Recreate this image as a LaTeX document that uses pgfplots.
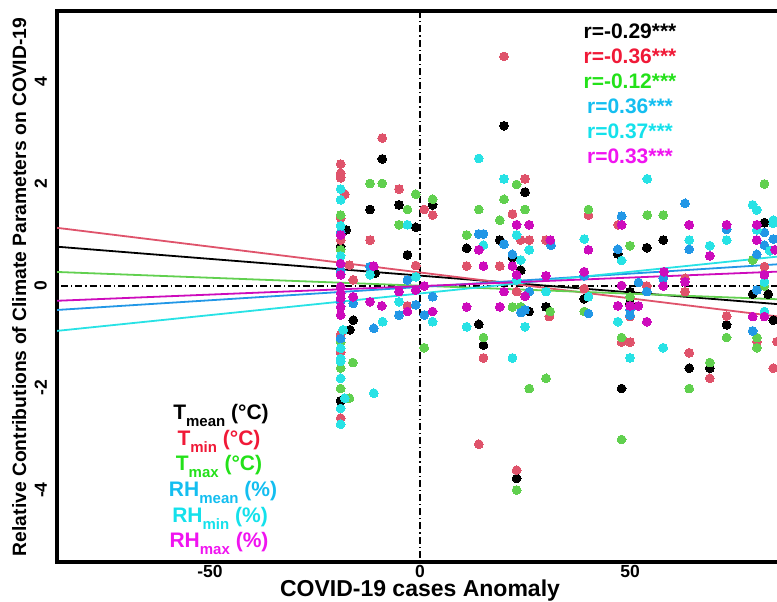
\documentclass[border=0pt]{standalone}
\usepackage{pgfplots}
\pgfplotsset{compat=1.18}
\usepackage{fontspec}
\setmainfont{Liberation Sans}
\definecolor{cred}{HTML}{DF536B}
\definecolor{cgreen}{HTML}{61D04F}
\definecolor{cblue}{HTML}{2297E6}
\definecolor{ccyan}{HTML}{28E2E5}
\definecolor{cmag}{HTML}{CD0BBC}
\definecolor{tred}{RGB}{240,25,55}
\definecolor{tgreen}{RGB}{35,225,25}
\definecolor{tblue}{RGB}{20,190,240}
\definecolor{tcyan}{RGB}{20,225,235}
\definecolor{tmag}{RGB}{240,20,240}
\newcommand{\sub}[1]{\raisebox{-7pt}{\fontsize{15}{15}\selectfont #1}}
\pgfplotsset{pts/.style={only marks, mark=*, mark size=4.4pt, color=#1, mark options={fill=#1, draw=#1, line width=0pt}}}
\begin{document}
\begin{tikzpicture}[x=1pt,y=1pt]
\begin{axis}[
  at={(57pt,40pt)}, anchor=south west,
  scale only axis, width=730pt, height=551pt,
  xmin=-86.43, xmax=87.38, ymin=-5.41, ymax=5.39,
  axis line style={line width=3.5pt},
  xtick={-50,0,50}, xticklabels={-50,0,50},
  ytick={-4,-2,0,2,4}, yticklabels={-4,-2,0,2,4},
  major tick length=0pt, tick style={draw=none},
  tick label style={font=\bfseries\fontsize{17.5}{17.5}\selectfont, inner sep=0pt},
  xticklabel style={anchor=north},
  xticklabel shift=3.5pt,
  yticklabel style={rotate=90, anchor=south},
  yticklabel shift=10pt,
]
\addplot[black, line width=1.2pt, dash pattern=on 1.2pt off 3pt on 7pt off 3pt] coordinates {(-86.43,0) (87.38,0)};
\addplot[black, line width=1.2pt, dash pattern=on 1.2pt off 3pt on 7pt off 3pt] coordinates {(0,-5.41) (0,5.39)};
% Tmean
\addplot[pts=black] coordinates {
(-17.6,1.10) (-18.9,0.77) (-18.9,0.30) (-15.9,-0.67) (-16.7,-0.86) (-18.9,-2.25) (-9.0,2.49) (-11.9,1.50) (-10.7,0.25) (-5.0,1.59) (-1.0,1.15) (-3.0,0.61) (3.0,1.59) (11.1,0.74) (14.0,-0.75) (15.1,-1.16) (19.0,0.90) (20.0,3.14) (22.0,0.56) (24.0,0.31) (25.0,1.84) (26.0,-0.50) (30.0,-0.41) (23.0,-3.77) (39.1,-0.25) (47.1,0.63) (48.0,-2.01) (50.0,-0.11) (50.0,-0.34) (54.0,0.75) (57.9,0.90) (64.1,-1.61) (69.0,-1.61) (73.0,-0.76) (79.2,-0.16) (82.9,-0.16) (82.0,1.24) (84.1,-0.67)
};
% Tmin
\addplot[pts=cred] coordinates {
(-18.9,2.39) (-18.9,2.21) (-18.9,2.12) (-17.9,1.80) (-18.9,1.33) (-18.9,0.90) (-16.8,0.41) (-15.9,0.12) (-18.9,-0.95) (-18.9,-1.30) (-18.9,-2.59) (-9.0,2.90) (-11.9,0.90) (-5.0,1.90) (-1.0,0.40) (1.0,1.50) (3.0,1.39) (-3.0,-0.39) (11.1,0.39) (14.0,-3.10) (15.1,-1.41) (19.0,0.39) (20.0,4.50) (22.0,1.41) (23.0,-0.11) (23.0,-3.61) (24.0,0.90) (25.0,2.10) (26.0,0.90) (30.0,0.90) (30.8,-0.60) (40.1,1.39) (39.1,-0.05) (47.2,1.20) (48.0,-1.10) (50.0,-1.10) (50.0,-0.60) (54.0,0.0) (58.1,0.28) (63.1,-0.11) (63.1,0.15) (64.1,-1.31) (69.0,-1.81) (73.0,-0.59) (80.2,-1.09) (82.0,0.38) (84.1,-1.61) (85.0,-1.09)
};
% Tmax
\addplot[pts=cgreen] coordinates {
(-18.9,1.39) (-18.9,0.71) (-18.9,-1.61) (-18.9,-2.01) (-16.0,-1.50) (-16.8,-2.20) (-18.9,-1.10) (-11.9,2.01) (-9.0,2.01) (-3.0,1.50) (-5.0,1.20) (-1.0,1.80) (3.0,1.70) (1.0,-1.21) (11.1,1.00) (14.0,1.50) (15.1,-1.01) (19.0,1.29) (20.0,1.70) (22.0,-0.41) (23.0,1.99) (24.0,-0.41) (25.0,1.50) (26.0,-2.01) (30.0,-1.81) (23.0,-4.00) (31.0,-0.50) (39.1,-0.50) (40.1,1.50) (48.0,0.01) (48.0,-1.01) (48.0,-3.01) (50.0,0.79) (50.0,-0.21) (54.1,1.39) (57.9,1.39) (64.1,-2.01) (69.0,-1.50) (73.0,-1.01) (79.2,0.51) (80.2,-1.01) (80.2,-1.21) (82.0,2.00) (82.0,0.0)
};
% RHmean
\addplot[pts=cblue] coordinates {
(-18.9,1.05) (-18.9,0.30) (-18.9,-0.30) (-18.9,-1.03) (-15.9,-0.34) (-11.0,-0.83) (-11.9,0.38) (-5.0,-0.57) (-3.0,0.12) (-1.0,-0.37) (1.0,-0.57) (3.0,-0.21) (14.0,1.02) (15.1,1.02) (20.0,0.82) (22.0,0.62) (24.0,-0.52) (25.0,-0.47) (26.0,-0.11) (31.2,0.80) (39.1,0.20) (40.1,-0.54) (47.1,0.72) (48.0,1.37) (50.0,-0.47) (50.0,-0.57) (52.0,0.07) (54.0,-0.11) (57.9,0.15) (63.1,1.62) (64.1,0.72) (73.0,1.11) (79.2,-0.88) (80.2,-0.08) (80.2,0.62) (82.0,1.05) (82.0,0.80) (84.1,0.92)
};
% RHmin
\addplot[pts=ccyan] coordinates {
(-18.9,1.90) (-18.9,1.69) (-18.9,1.18) (-18.9,0.59) (-18.3,-0.86) (-18.9,-1.22) (-18.9,-1.42) (-18.9,-1.48) (-18.9,-1.81) (-17.9,-2.20) (-18.9,-2.40) (-18.9,-2.71) (-11.0,-2.10) (-8.9,-0.70) (-11.9,0.22) (-5.0,-0.31) (-3.0,1.20) (-1.0,0.18) (3.0,-0.70) (11.1,-0.80) (14.0,2.50) (15.1,0.80) (20.0,2.10) (22.0,-1.41) (23.0,1.00) (23.0,0.12) (24.0,0.51) (25.0,-0.80) (26.0,0.71) (30.0,-0.11) (39.1,0.92) (40.1,-0.21) (47.1,-0.70) (48.0,0.50) (50.0,-1.41) (54.1,2.10) (57.9,-1.21) (64.1,0.90) (69.0,0.79) (73.0,0.90) (79.2,1.59) (80.2,1.49) (80.2,1.10) (82.0,0.08) (82.0,-0.50) (84.1,1.23) (83.3,0.69) (84.1,1.29)
};
% RHmax
\addplot[pts=cmag] coordinates {
(-18.9,1.00) (-18.9,0.44) (-18.9,0.22) (-18.9,-0.01) (-18.9,-0.14) (-18.9,-0.24) (-18.9,-0.41) (-18.9,-0.57) (-15.9,-0.21) (-11.0,0.39) (-11.9,-0.31) (-9.1,-0.39) (-5.0,-0.11) (-3.0,-0.50) (-1.0,-0.08) (1.0,0.0) (3.0,-0.50) (11.1,-0.41) (14.0,0.71) (15.1,0.39) (19.0,-0.41) (20.0,-0.11) (22.0,0.39) (23.0,1.20) (23.0,0.22) (25.0,-0.20) (26.0,1.20) (30.0,0.20) (31.0,0.90) (39.1,0.28) (40.1,0.71) (47.1,-0.39) (48.0,1.20) (48.0,0.01) (50.0,-0.39) (52.0,-0.39) (54.0,-0.70) (57.9,0.0) (58.1,0.28) (63.1,0.08) (64.1,1.20) (69.0,0.59) (73.0,1.20) (79.2,-0.60) (80.2,1.20) (80.2,0.90) (82.0,-0.60) (82.0,0.22) (84.5,0.71)
};
% regression lines
\addplot[black, line width=1.8pt] coordinates {(-86.43,0.77) (87.38,-0.37)};
\addplot[cred, line width=1.8pt] coordinates {(-86.43,1.14) (87.38,-0.62)};
\addplot[cgreen, line width=1.8pt] coordinates {(-86.43,0.275) (87.38,-0.267)};
\addplot[cblue, line width=1.8pt] coordinates {(-86.43,-0.47) (87.38,0.437)};
\addplot[ccyan, line width=1.8pt] coordinates {(-86.43,-0.88) (87.38,0.595)};
\addplot[cmag, line width=1.8pt] coordinates {(-86.43,-0.29) (87.38,0.289)};
\end{axis}
% axis titles
\node[anchor=base, inner sep=0pt, font=\bfseries\fontsize{23}{23}\selectfont] at (420,5) {COVID-19 cases Anomaly};
\node[rotate=90, anchor=north, inner sep=0pt, font=\bfseries\fontsize{19.3}{19.3}\selectfont] at (12,315) {Relative Contributions of Climate Parameters on COVID-19};
% correlation texts
\begin{scope}[every node/.style={anchor=base, inner sep=0pt, font=\bfseries\fontsize{21}{21}\selectfont}]
\node[text=black] at (630,563) {r=-0.29***};
\node[text=tred] at (630,538) {r=-0.36***};
\node[text=tgreen] at (630,513) {r=-0.12***};
\node[text=tblue] at (630,488) {r=0.36***};
\node[text=tcyan] at (630,463) {r=0.37***};
\node[text=tmag] at (630,438) {r=0.33***};
% legend texts
\node[text=black] at (221,182.7) {T\sub{mean} (°C)};
\node[text=tred] at (219,156.3) {T\sub{min} (°C)};
\node[text=tgreen] at (219,131) {T\sub{max} (°C)};
\node[text=tblue] at (223,105.3) {RH\sub{mean} (\%)};
\node[text=tcyan] at (220,79.7) {RH\sub{min} (\%)};
\node[text=tmag] at (219,54.7) {RH\sub{max} (\%)};
\end{scope}
\pgfresetboundingbox
\useasboundingbox (0,0) rectangle (777,602);
\end{tikzpicture}
\end{document}
